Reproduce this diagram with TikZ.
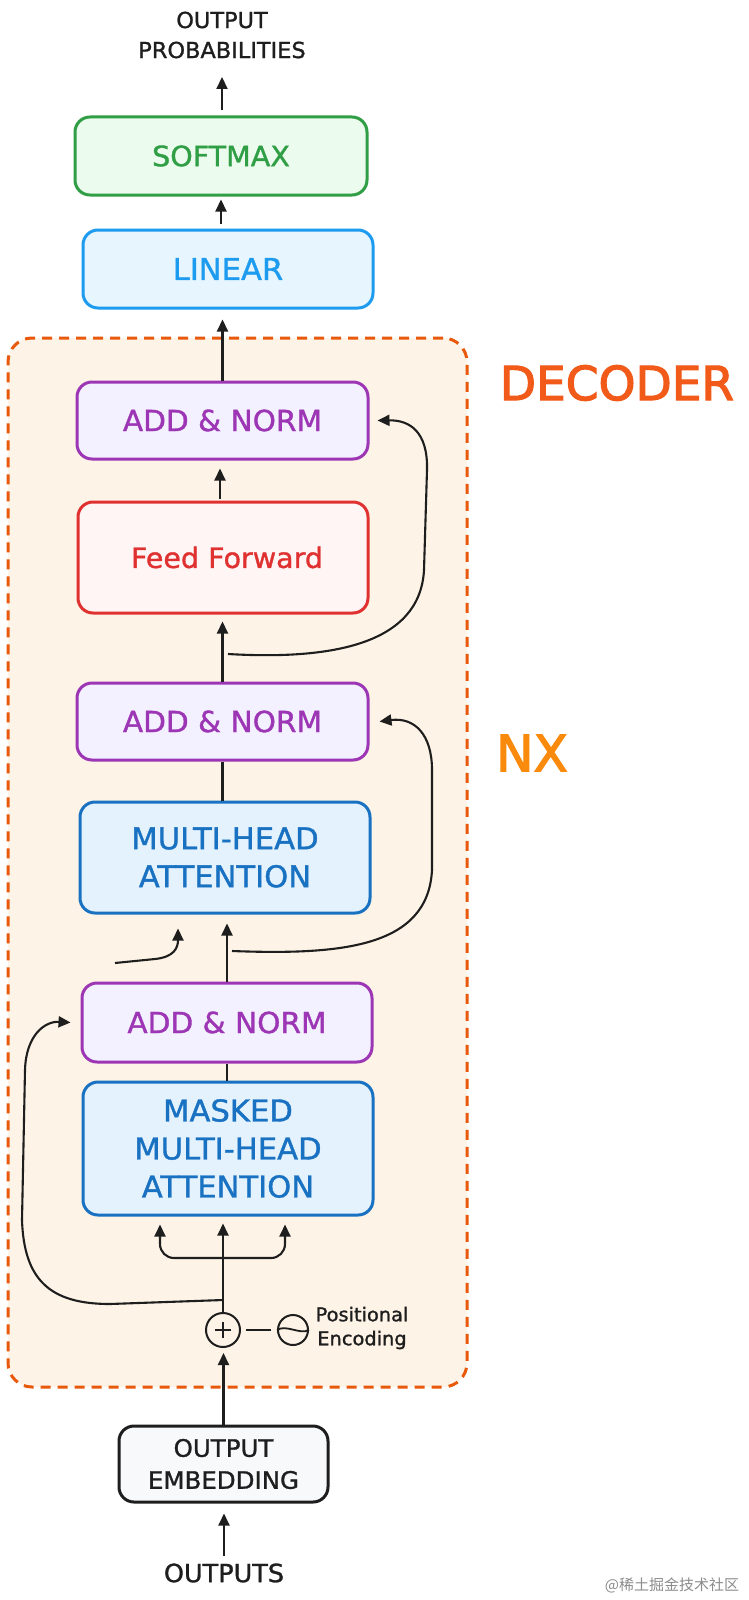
\documentclass[tikz,border=0pt]{standalone}
\usepackage{fontspec}
\usetikzlibrary{arrows.meta,calc}
\newfontfamily\hand[FakeStretch=1.02,FakeBold=1.2]{DejaVu Sans}
\newfontfamily\handn[FakeBold=2.5]{DejaVu Sans}
\newfontfamily\cjk{Noto Sans CJK SC}
\definecolor{ink}{HTML}{1E1E1E}
\definecolor{gS}{HTML}{2F9E44}
\definecolor{gF}{HTML}{EBFBEE}
\definecolor{lS}{HTML}{1C9BEF}
\definecolor{lF}{HTML}{E7F5FF}
\definecolor{pS}{HTML}{9C36B5}
\definecolor{pF}{HTML}{F3F0FF}
\definecolor{rS}{HTML}{E03131}
\definecolor{rF}{HTML}{FFF5F5}
\definecolor{bS}{HTML}{1971C2}
\definecolor{bF}{HTML}{E3F2FD}
\definecolor{frS}{HTML}{E8590C}
\definecolor{frF}{HTML}{FDF3E6}
\definecolor{decC}{HTML}{F25A1A}
\definecolor{nxC}{HTML}{F98A0C}
\definecolor{emF}{HTML}{F8F9FA}
\begin{document}
\begin{tikzpicture}[x=1pt,y=-1pt,
  box/.style={draw, rounded corners=15pt, line width=3pt, align=center, inner sep=0pt, minimum width=290pt},
  framebox/.style={draw=frS, fill=frF, dash pattern=on 10pt off 7pt, line width=3pt, rounded corners=24pt, inner sep=0pt},
  arr/.style={draw=ink, line width=2.1pt, -{Triangle[length=12pt,width=11pt]}},
  ln/.style={draw=ink, line width=2.1pt},
  lbl/.style={text=ink, align=center, inner sep=0pt},
  addbox/.style={box, draw=pS, fill=pF, text=pS, minimum width=291pt, minimum height=77pt, font=\hand\fontsize{29}{30}\selectfont},
  bluebox/.style={box, draw=bS, fill=bF, text=bS, font=\hand\fontsize{30}{38}\selectfont},
  ring/.style={circle, draw=ink, line width=2pt, inner sep=0pt},
]
\useasboundingbox[fill=white] (0,0) rectangle (748,1600);

% decoder frame
\node[framebox, minimum width=459pt, minimum height=1049pt] (frame) at (237.5,862.5) {};
\node[lbl, text=decC, font=\handn\fontsize{47}{50}\selectfont] (declbl) at (617,383) {DECODER};
\node[lbl, text=nxC, font=\handn\fontsize{50}{50}\selectfont] (nx) at (532,753) {NX};

% top
\node[lbl, font=\hand\fontsize{22}{30}\selectfont] (prob) at (222,35) {OUTPUT\\PROBABILITIES};
\coordinate (probtip) at (222,77);
\node[box, draw=gS, fill=gF, text=gS, minimum width=292pt, minimum height=78pt, font=\hand\fontsize{28}{30}\selectfont] (softmax) at (221,156) {SOFTMAX};
\node[box, draw=lS, fill=lF, text=lS, minimum width=290pt, minimum height=78pt, font=\hand\fontsize{30}{30}\selectfont] (linear) at (228,269) {LINEAR};

% decoder blocks
\node[addbox] (addtop) at (222.5,420.5) {ADD \& NORM};
\node[box, draw=rS, fill=rF, text=rS, minimum width=290pt, minimum height=111pt, font=\hand\fontsize{28}{30}\selectfont] (ff) at (223,557.5) {\hspace{8pt}Feed Forward};
\node[addbox] (addmid) at (222.5,721.5) {ADD \& NORM};
\node[bluebox, minimum width=290pt, minimum height=111pt] (mha) at (225,857.5) {MULTI-HEAD\\ATTENTION};
\node[addbox, minimum width=290pt, minimum height=79pt] (addlow) at (227,1022.5) {ADD \& NORM};
\node[bluebox, minimum width=290pt, minimum height=133pt] (mmha) at (228,1148.5) {MASKED\\MULTI-HEAD\\ATTENTION};

% positional encoding
\node[ring, minimum size=34pt] (plus) at (223,1330) {};
\draw[ink, line width=2.6pt] ([xshift=-8pt]plus.center) -- ([xshift=8pt]plus.center);
\draw[ink, line width=2.6pt] ([yshift=-8pt]plus.center) -- ([yshift=8pt]plus.center);
\node[ring, minimum size=30pt] (pe) at (293,1330) {};
\draw[ink, line width=1.8pt] (pe.west) .. controls ([xshift=9pt,yshift=6pt]pe.west) and ([xshift=-9pt,yshift=-5pt]pe.east) .. (pe.east);
\draw[ln, shorten <=5pt, shorten >=6pt] (plus.east) -- (pe.west);
\node[lbl, font=\hand\fontsize{19}{24}\selectfont] (petext) at (362,1328) {Positional\\Encoding};

% bottom
\node[box, draw=ink, fill=emF, text=ink, minimum width=209pt, minimum height=76pt, font=\hand\fontsize{24}{32}\selectfont] (embed) at (223.5,1464) {OUTPUT\\EMBEDDING};
\node[lbl, font=\hand\fontsize{25}{26}\selectfont] (outputs) at (224,1573) {OUTPUTS};
\node[lbl, text=black!45, font=\cjk\fontsize{15}{15}\selectfont] (wm) at (672,1585) {@稀土掘金技术社区};

% vertical connectors
\draw[arr, shorten <=5pt] (softmax.north -| probtip) -- (probtip);
\draw[arr, shorten <=5pt, shorten >=3pt] (linear.north -| softmax.south) -- (softmax.south);
\draw[arr, shorten >=10pt] (addtop.north) -- (addtop.north |- linear.south);
\draw[arr, shorten <=2pt, shorten >=8pt] ([xshift=-3pt]ff.north) -- ([xshift=-3pt]ff.north |- addtop.south);
\draw[arr, shorten >=7pt] (addmid.north) -- (addmid.north |- ff.south);
\draw[ln] (mha.north -| addmid.south) -- (addmid.south);
\draw[arr, shorten >=9pt] (addlow.north) -- (addlow.north |- mha.south);
\draw[ln] (mmha.north -| addlow.south) -- (addlow.south);
\draw[arr, shorten >=7pt] (plus.north) -- (plus.north |- mmha.south);
\coordinate (br) at (223,1258);
\draw[arr, rounded corners=14pt] (br) -| ([xshift=-68pt,yshift=-8pt]mmha.south);
\draw[arr, rounded corners=14pt] (br) -| ([xshift=57pt,yshift=-8pt]mmha.south);
\draw[arr, shorten >=5pt] (embed.north) -- (embed.north |- plus.south);
\draw[arr, shorten <=7pt, shorten >=10pt] (outputs.north) -- (outputs.north |- embed.south);

% residual connections
\coordinate (r1s) at (228,654);
\draw[arr] (r1s) .. controls (330,660) and (420,645) .. (424,570) -- (427,470) .. controls (428,432) and (410,420) .. ([xshift=8pt]addtop.east);
\coordinate (r2s) at (232,951);
\draw[arr] (r2s) .. controls (340,955) and (428,948) .. (432,870) -- (432,770) .. controls (432,735) and (415,717) .. ([xshift=10pt]addmid.east);
\coordinate (r3s) at (223,1300);
\draw[arr] (r3s) -- (110,1304) .. controls (50,1304) and (24,1280) .. (22,1220) -- (25,1070) .. controls (26,1035) and (45,1021) .. ([xshift=-10pt]addlow.west);
\coordinate (encin) at (115,963);
\draw[arr] (encin) -- (155,959) .. controls (174,957) and (178,948) .. ([xshift=-47pt,yshift=-14pt]mha.south);
\end{tikzpicture}
\end{document}
